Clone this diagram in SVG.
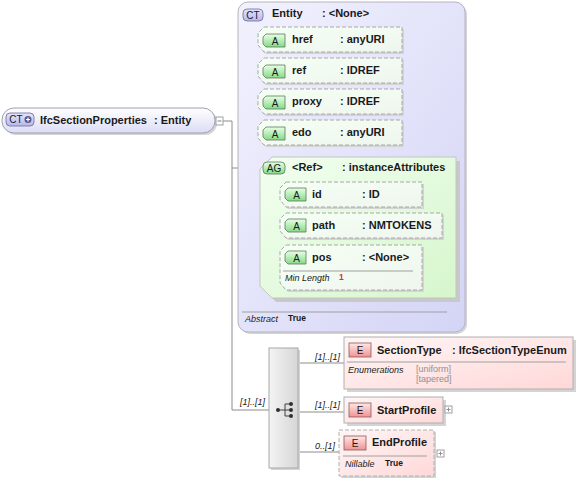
<svg xmlns="http://www.w3.org/2000/svg" width="578" height="482" viewBox="0 0 578 482">
<defs>
<linearGradient id="gRoot" x1="0" y1="0" x2="0" y2="1"><stop offset="0" stop-color="#ffffff"/><stop offset="1" stop-color="#dcdcf6"/></linearGradient>
<linearGradient id="gCT" x1="0" y1="0" x2="1" y2="1"><stop offset="0" stop-color="#f2f2fe"/><stop offset="1" stop-color="#d4d4f6"/></linearGradient>
<linearGradient id="gBadgeCT" x1="0" y1="0" x2="0" y2="1"><stop offset="0" stop-color="#e4e4fc"/><stop offset="1" stop-color="#b8b8ec"/></linearGradient>
<linearGradient id="gAttr" x1="0" y1="0" x2="1" y2="1"><stop offset="0" stop-color="#f6fff4"/><stop offset="1" stop-color="#eef6ee"/></linearGradient>
<linearGradient id="gA" x1="0" y1="0" x2="0" y2="1"><stop offset="0" stop-color="#e8ffe6"/><stop offset="1" stop-color="#86da86"/></linearGradient>
<linearGradient id="gAG" x1="0" y1="0" x2="1" y2="1"><stop offset="0" stop-color="#f2fff0"/><stop offset="1" stop-color="#d6f6cc"/></linearGradient>
<linearGradient id="gEl" x1="0" y1="0" x2="1" y2="1"><stop offset="0" stop-color="#fff6f6"/><stop offset="1" stop-color="#ffd8d8"/></linearGradient>
<linearGradient id="gE" x1="0" y1="0" x2="0" y2="1"><stop offset="0" stop-color="#ffe6e6"/><stop offset="1" stop-color="#f09494"/></linearGradient>
<linearGradient id="gChoice" x1="0" y1="0" x2="1" y2="0"><stop offset="0" stop-color="#f4f4f4"/><stop offset="1" stop-color="#d6d6d6"/></linearGradient>
</defs>
<style>
text{font-family:"Liberation Sans",Arial,sans-serif;}
.n{font-size:11px;font-weight:bold;fill:#1a1a1a;}
.b{font-size:10px;fill:#1a1a1a;text-anchor:middle;}
.i{font-size:9px;font-style:italic;fill:#1a1a1a;}
.v{font-size:8.5px;font-weight:bold;fill:#1a1a1a;}
.g{font-size:9px;fill:#909090;}
.c{font-size:9px;font-style:italic;fill:#1a1a1a;}
.ln{stroke:#8c8c8c;stroke-width:1;fill:none;}
.sh{fill:#d4d4d4;}
.attr{fill:url(#gAttr);stroke:#a8a8a8;stroke-dasharray:4 2;stroke-width:1;}
.ab{fill:url(#gA);stroke:#5a7a5a;stroke-width:0.8;}
.eb{fill:url(#gE);stroke:#8a5a5a;stroke-width:0.8;}
.el{fill:url(#gEl);stroke:#b0b0b0;stroke-width:1;}
.sep{stroke:#a0a0a0;stroke-width:1;}
.pm{fill:#fff;stroke:#a0a0a0;stroke-width:1;}
</style>

<g id="connectors">
<path class="ln" d="M223 121H232V410H269"/>
<path class="ln" d="M232 168H238"/>
<path class="ln" d="M250 41V228H270"/>
<path class="ln" d="M250 41H258M250 72H258M250 103H258M250 134H258M250 165H260"/>
<path class="ln" d="M270 195V257M270 195H280M270 257H280"/>
<path class="ln" d="M298 363H344M298 412H344M298 452H339"/>
<text class="c" x="240" y="405">[1]..[1]</text>
<text class="c" x="315" y="360">[1]..[1]</text>
<text class="c" x="315" y="408">[1]..[1]</text>
<text class="c" x="315" y="449">0..[1]</text>
</g>

<g id="root">
<rect x="4" y="110" width="213" height="25" rx="12" class="sh"/>
<rect x="2" y="108" width="213" height="25" rx="12" fill="url(#gRoot)" stroke="#a0a0b4"/>
<rect x="6" y="113" width="28" height="13" rx="4" fill="url(#gBadgeCT)" stroke="#6a6a9a" stroke-width="0.8"/>
<text class="b" x="16" y="123">CT</text>
<circle cx="28" cy="119.5" r="3.5" fill="#5a5a8a"/>
<path d="M26 119.5H30M28 117.5V121.5" stroke="#fff" stroke-width="1.2"/>
<text class="n" x="40" y="124">IfcSectionProperties</text>
<text class="n" x="154" y="124">: Entity</text>
<rect x="216" y="117" width="7" height="8" class="pm"/>
<path d="M217.5 121H221.5" stroke="#808080"/>
</g>

<g id="entity">
<rect x="240" y="4" width="227" height="330" rx="10" class="sh"/>
<rect x="238" y="2" width="227" height="330" rx="10" fill="url(#gCT)" stroke="#b4b4c0"/>
<rect x="243" y="9" width="20" height="12" rx="4" fill="url(#gBadgeCT)" stroke="#6a6a9a" stroke-width="0.8"/>
<text class="b" x="253" y="19">CT</text>
<text class="n" x="272" y="17">Entity</text>
<text class="n" x="322" y="17">: &lt;None&gt;</text>
<path class="sep" d="M242 312H447"/>
<text class="i" x="245" y="322">Abstract</text>
<text class="v" x="288" y="321">True</text>
</g>

<g id="href">
<polygon class="sh" points="266,29 404,29 404,54 266,54 260,47 260,35"/>
<polygon class="attr" points="264,27 402,27 402,52 264,52 258,45 258,33"/>
<polygon class="ab" points="266,34 285,34 285,47 266,47 263,44 263,37"/>
<text class="b" x="275" y="44.5">A</text>
<text class="n" x="292" y="43">href</text>
<text class="n" x="340" y="43">: anyURI</text>
</g>
<g id="ref">
<polygon class="sh" points="266,60 404,60 404,85 266,85 260,78 260,66"/>
<polygon class="attr" points="264,58 402,58 402,83 264,83 258,76 258,64"/>
<polygon class="ab" points="266,65 285,65 285,78 266,78 263,75 263,68"/>
<text class="b" x="275" y="75.5">A</text>
<text class="n" x="292" y="74">ref</text>
<text class="n" x="340" y="74">: IDREF</text>
</g>
<g id="proxy">
<polygon class="sh" points="266,91 404,91 404,116 266,116 260,109 260,97"/>
<polygon class="attr" points="264,89 402,89 402,114 264,114 258,107 258,95"/>
<polygon class="ab" points="266,96 285,96 285,109 266,109 263,106 263,99"/>
<text class="b" x="275" y="106.5">A</text>
<text class="n" x="292" y="105">proxy</text>
<text class="n" x="340" y="105">: IDREF</text>
</g>
<g id="edo">
<polygon class="sh" points="266,122 404,122 404,147 266,147 260,140 260,128"/>
<polygon class="attr" points="264,120 402,120 402,145 264,145 258,138 258,126"/>
<polygon class="ab" points="266,127 285,127 285,140 266,140 263,137 263,130"/>
<text class="b" x="275" y="137.5">A</text>
<text class="n" x="292" y="136">edo</text>
<text class="n" x="340" y="136">: anyURI</text>
</g>

<g id="instanceAttributes">
<polygon fill="#c8c8c8" points="276,161 460,161 460,302 276,302 264,290 264,173"/>
<polygon fill="url(#gAG)" stroke="#c4c4c4" points="272,157 456,157 456,298 272,298 260,286 260,169"/>
<rect x="263" y="162" width="22" height="12" rx="4" fill="url(#gA)" stroke="#5a7a5a" stroke-width="0.8"/>
<text class="b" x="274" y="172">AG</text>
<text class="n" x="292" y="171">&lt;Ref&gt;</text>
<text class="n" x="342" y="171">: instanceAttributes</text>
</g>

<g id="id">
<polygon class="sh" points="288,184 424,184 424,209 288,209 282,202 282,190"/>
<polygon class="attr" points="286,182 422,182 422,207 286,207 280,200 280,188"/>
<polygon class="ab" points="288,188 306,188 306,201 288,201 285,198 285,191"/>
<text class="b" x="296.5" y="198.5">A</text>
<text class="n" x="312" y="198">id</text>
<text class="n" x="362" y="198">: ID</text>
</g>
<g id="path">
<polygon class="sh" points="288,215 444,215 444,240 288,240 282,233 282,221"/>
<polygon class="attr" points="286,213 442,213 442,238 286,238 280,231 280,219"/>
<polygon class="ab" points="288,219 306,219 306,232 288,232 285,229 285,222"/>
<text class="b" x="296.5" y="229.5">A</text>
<text class="n" x="312" y="229">path</text>
<text class="n" x="362" y="229">: NMTOKENS</text>
</g>
<g id="pos">
<polygon class="sh" points="288,247 424,247 424,292 288,292 282,285 282,253"/>
<polygon class="attr" points="286,245 422,245 422,290 286,290 280,283 280,251"/>
<polygon class="ab" points="288,251 306,251 306,264 288,264 285,261 285,254"/>
<text class="b" x="296.5" y="261.5">A</text>
<text class="n" x="312" y="261">pos</text>
<text class="n" x="362" y="261">: &lt;None&gt;</text>
<path class="sep" d="M283 271H413"/>
<text class="i" x="285" y="281">Min Length</text>
<text x="339" y="280" font-size="8.5" font-weight="bold" fill="#e03030">1</text>
</g>

<g id="choice">
<rect x="271" y="350" width="29" height="120" class="sh"/>
<rect x="269" y="348" width="29" height="120" fill="url(#gChoice)" stroke="#a8a8a8"/>
<path d="M278 410H285M285 404V416M285 404H291M285 410H291M285 416H291" stroke="#404040" stroke-width="1"/>
<circle cx="278" cy="410" r="2" fill="#303030"/>
<circle cx="291" cy="404" r="2" fill="#303030"/>
<circle cx="291" cy="410" r="2" fill="#303030"/>
<circle cx="291" cy="416" r="2" fill="#303030"/>
</g>

<g id="SectionType">
<rect x="347" y="340" width="229" height="52" class="sh"/>
<rect x="344" y="337" width="229" height="52" class="el"/>
<rect x="349" y="343" width="22" height="14" class="eb"/>
<text class="b" x="360" y="354">E</text>
<text class="n" x="377" y="354">SectionType</text>
<text class="n" x="452" y="354">: IfcSectionTypeEnum</text>
<path class="sep" d="M347 362H566"/>
<text class="i" x="348" y="373">Enumerations</text>
<text class="g" x="416" y="372">[uniform]</text>
<text class="g" x="416" y="382">[tapered]</text>
</g>

<g id="StartProfile">
<rect x="347" y="400" width="99" height="26" class="sh"/>
<rect x="344" y="397" width="99" height="26" class="el"/>
<rect x="349" y="403" width="22" height="14" class="eb"/>
<text class="b" x="360" y="414">E</text>
<text class="n" x="377" y="414">StartProfile</text>
<rect x="445" y="406" width="7" height="7" class="pm"/>
<path d="M446.5 409.5H450.5M448.5 407.5V411.5" stroke="#909090"/>
</g>

<g id="EndProfile">
<rect x="341" y="432" width="95" height="46" class="sh"/>
<rect x="339" y="430" width="95" height="46" class="el" stroke-dasharray="4 2"/>
<rect x="344" y="436" width="22" height="14" class="eb"/>
<text class="b" x="355" y="447">E</text>
<text class="n" x="372" y="446">EndProfile</text>
<path class="sep" d="M343 456H427"/>
<text class="i" x="345" y="467">Nillable</text>
<text class="v" x="385" y="466">True</text>
<rect x="437" y="450" width="7" height="7" class="pm"/>
<path d="M438.5 453.5H442.5M440.5 451.5V455.5" stroke="#909090"/>
</g>
</svg>
